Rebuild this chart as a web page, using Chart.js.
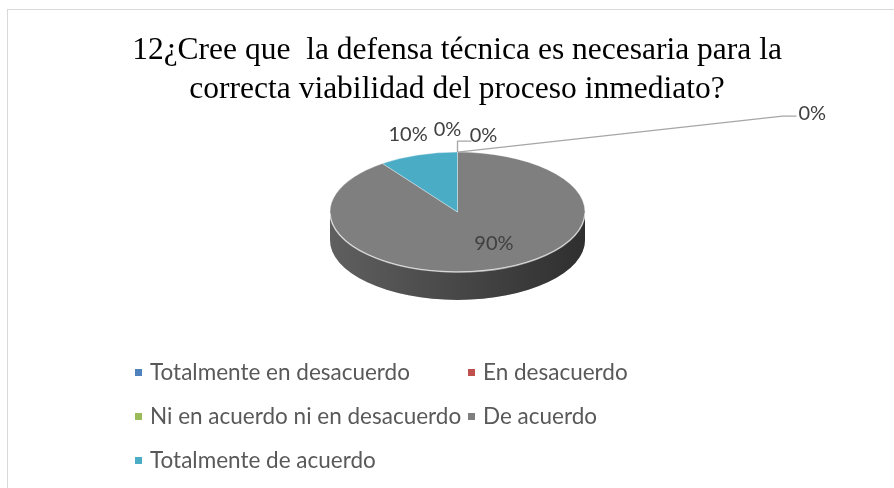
<!DOCTYPE html>
<html>
<head>
<meta charset="utf-8">
<script src="https://cdn.jsdelivr.net/npm/chart.js@4.4.1/dist/chart.umd.min.js"></script>
<style>
  html, body { margin: 0; padding: 0; background: #fff; }
  #wrap { position: relative; width: 894px; height: 488px; overflow: hidden; }
  #frame {
    position: absolute; left: 7px; top: 9px; right: -5px; bottom: -5px;
    border-top: 1px solid #d9d9d9; border-left: 1px solid #d9d9d9;
  }
  #pie { position: absolute; left: 0; top: 0; }
  #title {
    position: absolute; left: 0; top: 29px; width: 914px;
    text-align: center; font-family: "Liberation Serif", serif;
    font-size: 31.5px; line-height: 39px; color: #000; white-space: pre;
  }
  #legend {
    position: absolute; left: 135px; top: 350px;
    display: grid; grid-template-columns: 333px auto;
    font-family: Lato, sans-serif; font-size: 22.5px; line-height: 44px; color: #595959;
  }
  #legend span.box {
    display: inline-block; width: 7px; height: 7px; margin-right: 8px;
    vertical-align: middle; position: relative; top: -2px;
  }
</style>
</head>
<body>
<div id="wrap">
  <div id="frame"></div>
  <canvas id="pie" width="894" height="488"></canvas>
  <div id="title"></div>
  <div id="legend"></div>
</div>
<script>
// datos del gráfico
const titleLines = [
  "12¿Cree que  la defensa técnica es necesaria para la",
  "correcta viabilidad del proceso inmediato?"
];
const categories = [
  "Totalmente en desacuerdo",
  "En desacuerdo",
  "Ni en acuerdo ni en desacuerdo",
  "De acuerdo",
  "Totalmente de acuerdo"
];
const percents = [0, 0, 0, 90, 10];
const sliceColors = ["#4f81bd", "#c0504d", "#9bbb59", "#7f7f7f", "#4bacc6"];

// título y leyenda como texto HTML
document.getElementById("title").textContent = titleLines.join("\n");
const legendEl = document.getElementById("legend");
categories.forEach((name, i) => {
  const item = document.createElement("div");
  const box = document.createElement("span");
  box.className = "box";
  box.style.background = sliceColors[i];
  item.appendChild(box);
  item.appendChild(document.createTextNode(name));
  legendEl.appendChild(item);
});

/**
 * Pastel "3D": aplana el círculo en elipse y dibuja el canto
 */
const pie3d = {
  id: "pie3d",
  beforeDatasetsDraw(chart, args, opts) {
    const ctx = chart.ctx;
    const arcs = chart.getDatasetMeta(0).data;
    const { x: cx, y: cy, outerRadius: r } = arcs[0];
    const ry = r * opts.tilt;

    // canto frontal (ángulos entre 0 y PI)
    arcs.forEach((arc, i) => {
      const s = Math.max(arc.startAngle, 0);
      const e = Math.min(arc.endAngle, Math.PI);
      if (e <= s) return;
      ctx.save();
      ctx.beginPath();
      ctx.ellipse(cx, cy, r, ry, 0, s, e);
      ctx.ellipse(cx, cy + opts.depth, r, ry, 0, e, s, true);
      ctx.closePath();
      ctx.fillStyle = sliceColors[i];
      ctx.fill();
      const grad = ctx.createLinearGradient(cx - r, 0, cx + r, 0);
      grad.addColorStop(0, "rgba(0,0,0,0.25)");
      grad.addColorStop(1, "rgba(0,0,0,0.63)");
      ctx.fillStyle = grad;
      ctx.fill();
      ctx.restore();
    });

    // la cara superior se dibuja aplastada
    ctx.save();
    ctx.translate(cx, cy);
    ctx.scale(1, opts.tilt);
    ctx.translate(-cx, -cy);
  },
  afterDatasetsDraw(chart, args, opts) {
    const ctx = chart.ctx;
    ctx.restore();

    const arcs = chart.getDatasetMeta(0).data;
    const { x: cx, y: cy, outerRadius: r } = arcs[0];
    const ry = r * opts.tilt;

    // brillo en el borde frontal
    ctx.save();
    ctx.beginPath();
    ctx.ellipse(cx, cy, r, ry, 0, 0.02, Math.PI - 0.02);
    ctx.strokeStyle = "rgba(255,255,255,0.55)";
    ctx.lineWidth = 1.5;
    ctx.stroke();
    ctx.restore();

    // etiquetas de porcentaje
    ctx.save();
    ctx.font = opts.font;
    ctx.fillStyle = opts.color;
    ctx.textBaseline = "middle";
    arcs.forEach((arc, i) => {
      const mid = (arc.startAngle + arc.endAngle) / 2;
      const px = cx + r * Math.cos(mid);
      const py = cy + ry * Math.sin(mid);
      const lab = opts.labels[i];
      if (lab.leader) {
        ctx.beginPath();
        ctx.moveTo(px, py);
        lab.leader.forEach(([dx, dy]) => ctx.lineTo(px + dx, py + dy));
        ctx.strokeStyle = opts.leaderColor;
        ctx.lineWidth = 1.3;
        ctx.stroke();
      }
      ctx.textAlign = lab.align || "center";
      ctx.fillText(percents[i] + "%", px + lab.dx, py + lab.dy);
    });
    ctx.restore();
  }
};

new Chart(document.getElementById("pie"), {
  type: "pie",
  data: {
    labels: categories,
    datasets: [{
      data: percents,
      backgroundColor: sliceColors,
      borderColor: "rgba(255,255,255,0.45)",
      borderWidth: 1
    }]
  },
  options: {
    responsive: false,
    animation: false,
    layout: { padding: { left: 329, top: 84, right: 308, bottom: 148 } },
    plugins: {
      legend: { display: false },
      tooltip: { enabled: false },
      pie3d: {
        tilt: 0.47,
        depth: 28,
        font: "20px Lato",
        color: "#404040",
        leaderColor: "#a6a6a6",
        labels: [
          { dx: 341, dy: -39, align: "left", leader: [[325, -36], [339, -36]] },
          { dx: 26, dy: -17, leader: [[0, -11], [14, -11]] },
          { dx: -10, dy: -23 },
          { dx: -3, dy: -25 },
          { dx: -10, dy: -20 }
        ]
      }
    }
  },
  plugins: [pie3d]
});
</script>
</body>
</html>
